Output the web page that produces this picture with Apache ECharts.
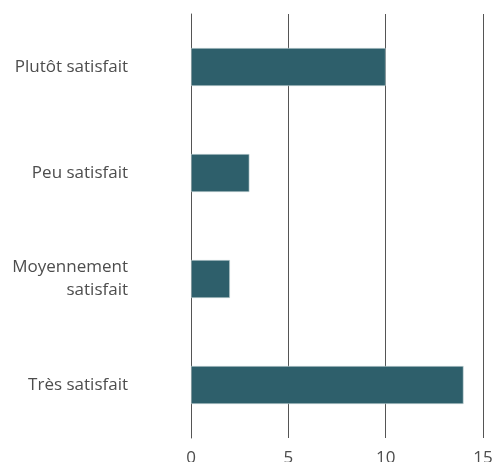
<!DOCTYPE html>
<html>
<head>
<meta charset="utf-8">
<script src="https://cdn.jsdelivr.net/npm/echarts@6/dist/echarts.min.js"></script>
<style>
  html, body { margin: 0; padding: 0; background: #fff; }
  #chart { width: 495px; height: 462px; }
</style>
</head>
<body>
<div id="chart"></div>
<script>
// Satisfaction levels, listed top to bottom
const categories = ['Plutôt satisfait', 'Peu satisfait', 'Moyennement\nsatisfait', 'Très satisfait'];
const counts = [10, 3, 2, 14];
const xTicks = [0, 5, 10, 15];

const chart = echarts.init(document.getElementById('chart'), null, { renderer: 'canvas' });
chart.setOption({
  animation: false,
  grid: { left: 191, right: 12, top: 14, bottom: 24, containLabel: false, outerBoundsMode: 'none' },
  xAxis: {
    type: 'value',
    min: xTicks[0],
    max: xTicks[xTicks.length - 1],
    interval: 5,
    axisLine: { show: false },
    axisTick: { show: false },
    splitLine: { show: true, lineStyle: { color: '#555', width: 1 } },
    axisLabel: { color: '#4d4d4d', fontFamily: 'Open Sans', fontSize: 17, margin: 12 }
  },
  yAxis: {
    type: 'category',
    inverse: true,
    data: categories,
    axisLine: { show: true, lineStyle: { color: '#555', width: 1 } },
    axisTick: { show: false },
    axisLabel: { color: '#4d4d4d', fontFamily: 'Open Sans', fontSize: 17, margin: 63, align: 'right', lineHeight: 23 }
  },
  series: [{
    type: 'bar',
    data: counts,
    barWidth: 38,
    itemStyle: { color: '#2e5f6b', borderColor: '#c9d6d9', borderWidth: 0.6 }
  }]
});
</script>
</body>
</html>
